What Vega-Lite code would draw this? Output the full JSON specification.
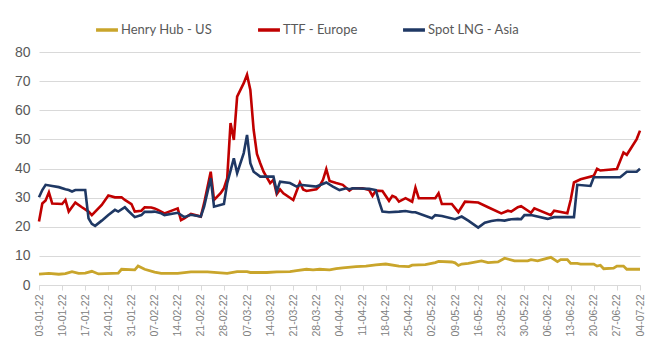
{
  "$schema": "https://vega.github.io/schema/vega-lite/v6.json",
  "width": 601,
  "height": 233,
  "autosize": {"type": "none"},
  "padding": {"left": 39, "top": 52, "right": 5, "bottom": 74},
  "background": "white",
  "config": {"view": {"stroke": null}, "font": "Liberation Sans"},
  "datasets": {
    "hh": [
      ["2022-01-03",3.7],["2022-01-06",4.0],["2022-01-09",3.7],["2022-01-11",3.9],["2022-01-13",4.6],["2022-01-15",4.0],["2022-01-17",4.1],["2022-01-19",4.7],["2022-01-21",3.8],["2022-01-27",4.1],["2022-01-28",5.4],["2022-02-01",5.2],["2022-02-02",6.5],["2022-02-04",5.4],["2022-02-07",4.4],["2022-02-09",4.0],["2022-02-14",4.0],["2022-02-18",4.5],["2022-02-23",4.5],["2022-03-01",4.0],["2022-03-04",4.6],["2022-03-07",4.6],["2022-03-08",4.3],["2022-03-13",4.3],["2022-03-16",4.5],["2022-03-20",4.6],["2022-03-22",4.9],["2022-03-25",5.4],["2022-03-27",5.2],["2022-03-29",5.4],["2022-04-01",5.2],["2022-04-03",5.6],["2022-04-05",5.9],["2022-04-09",6.3],["2022-04-12",6.5],["2022-04-15",6.9],["2022-04-18",7.2],["2022-04-22",6.5],["2022-04-25",6.3],["2022-04-26",6.8],["2022-04-30",7.0],["2022-05-03",7.7],["2022-05-04",8.1],["2022-05-08",7.9],["2022-05-09",7.6],["2022-05-10",6.7],["2022-05-11",7.2],["2022-05-13",7.4],["2022-05-17",8.3],["2022-05-19",7.7],["2022-05-22",7.9],["2022-05-24",9.2],["2022-05-27",8.3],["2022-05-31",8.3],["2022-06-01",8.7],["2022-06-03",8.3],["2022-06-07",9.5],["2022-06-09",8.0],["2022-06-10",8.7],["2022-06-12",8.7],["2022-06-13",7.4],["2022-06-15",7.4],["2022-06-16",7.2],["2022-06-20",7.2],["2022-06-21",6.5],["2022-06-22",6.8],["2022-06-23",5.6],["2022-06-26",5.8],["2022-06-27",6.5],["2022-06-29",6.5],["2022-06-30",5.4],["2022-07-04",5.4]
    ],
    "ttf": [
      ["2022-01-03",21.8],["2022-01-04",28],["2022-01-05",29],["2022-01-06",31.8],["2022-01-07",28],["2022-01-10",27.8],["2022-01-11",29.2],["2022-01-12",25.2],["2022-01-14",28.3],["2022-01-16",26.7],["2022-01-18",25.2],["2022-01-19",24],["2022-01-22",27.5],["2022-01-24",30.7],["2022-01-26",30.1],["2022-01-28",30.1],["2022-01-29",29.2],["2022-01-31",27.8],["2022-02-01",25.2],["2022-02-03",25.5],["2022-02-04",26.7],["2022-02-06",26.6],["2022-02-07",26.3],["2022-02-08",25.8],["2022-02-10",24.6],["2022-02-14",26.3],["2022-02-15",22.3],["2022-02-16",22.9],["2022-02-18",24.4],["2022-02-21",23.5],["2022-02-22",28.1],["2022-02-24",38.9],["2022-02-25",29.2],["2022-02-27",31.5],["2022-02-28",33.2],["2022-03-01",36.7],["2022-03-02",55.6],["2022-03-03",49.8],["2022-03-04",64.7],["2022-03-05",67],["2022-03-06",69.3],["2022-03-07",72.2],["2022-03-08",67],["2022-03-09",53.3],["2022-03-10",45],["2022-03-11",41.8],["2022-03-12",38.9],["2022-03-14",35],["2022-03-15",36.1],["2022-03-16",31.2],["2022-03-17",32.8],["2022-03-18",31.5],["2022-03-21",29.2],["2022-03-23",35.2],["2022-03-24",32.8],["2022-03-25",32.3],["2022-03-28",32.9],["2022-03-29",34],["2022-03-30",36.1],["2022-03-31",39.8],["2022-04-01",35.7],["2022-04-03",35],["2022-04-05",34.4],["2022-04-07",32.4],["2022-04-08",33.2],["2022-04-11",33.2],["2022-04-13",32.6],["2022-04-14",30.6],["2022-04-15",32.4],["2022-04-17",32.3],["2022-04-19",28.9],["2022-04-20",30.6],["2022-04-21",30.1],["2022-04-22",28.6],["2022-04-24",29.8],["2022-04-26",28.6],["2022-04-27",33.4],["2022-04-28",29.8],["2022-05-03",29.8],["2022-05-04",31.5],["2022-05-05",27.8],["2022-05-08",27.8],["2022-05-10",25],["2022-05-12",28.6],["2022-05-16",28.3],["2022-05-19",26.7],["2022-05-23",24.6],["2022-05-25",25.5],["2022-05-26",25.2],["2022-05-28",26.7],["2022-05-29",27.1],["2022-06-01",24.8],["2022-06-02",26.3],["2022-06-07",24],["2022-06-08",25.5],["2022-06-12",24.6],["2022-06-13",29.2],["2022-06-14",35.2],["2022-06-16",36.3],["2022-06-20",37.5],["2022-06-21",39.9],["2022-06-22",39.3],["2022-06-27",39.8],["2022-06-29",45.5],["2022-06-30",44.7],["2022-07-03",50.1],["2022-07-04",53]
    ],
    "lng": [
      ["2022-01-03",30.1],["2022-01-04",32.6],["2022-01-05",34.4],["2022-01-07",34],["2022-01-09",33.6],["2022-01-11",32.9],["2022-01-12",32.6],["2022-01-13",32.1],["2022-01-14",32.6],["2022-01-17",32.6],["2022-01-18",22.9],["2022-01-19",21],["2022-01-20",20.3],["2022-01-22",22.1],["2022-01-24",24],["2022-01-26",25.8],["2022-01-27",25.2],["2022-01-29",26.7],["2022-01-30",25.5],["2022-02-01",23.3],["2022-02-03",24],["2022-02-04",25.1],["2022-02-06",25.1],["2022-02-07",25.2],["2022-02-09",24.6],["2022-02-10",24],["2022-02-14",24.8],["2022-02-16",23.3],["2022-02-18",24.1],["2022-02-21",23.5],["2022-02-22",26.9],["2022-02-24",36.7],["2022-02-25",26.9],["2022-02-28",27.8],["2022-03-01",35],["2022-03-03",43.5],["2022-03-04",38.4],["2022-03-06",45.3],["2022-03-07",51.5],["2022-03-08",41.8],["2022-03-09",38.9],["2022-03-11",37.2],["2022-03-13",37.2],["2022-03-14",37.2],["2022-03-15",37.2],["2022-03-16",32.1],["2022-03-17",35.5],["2022-03-20",35],["2022-03-22",33.8],["2022-03-23",34.4],["2022-03-28",33.8],["2022-03-31",35.2],["2022-04-02",33.8],["2022-04-04",32.6],["2022-04-06",33.2],["2022-04-07",32.9],["2022-04-08",33.2],["2022-04-13",33],["2022-04-15",32.6],["2022-04-16",28.6],["2022-04-17",25.2],["2022-04-19",25],["2022-04-22",25.2],["2022-04-24",25.4],["2022-04-26",25],["2022-04-27",25],["2022-05-02",22.9],["2022-05-03",24],["2022-05-05",23.7],["2022-05-09",22.6],["2022-05-11",23.5],["2022-05-13",22.1],["2022-05-16",19.7],["2022-05-18",21.4],["2022-05-20",22],["2022-05-22",22.3],["2022-05-24",22.1],["2022-05-26",22.6],["2022-05-28",22.7],["2022-05-29",22.6],["2022-05-30",24],["2022-06-01",24],["2022-06-06",22.7],["2022-06-08",23.3],["2022-06-14",23.3],["2022-06-15",34.4],["2022-06-19",34],["2022-06-20",37],["2022-06-28",37],["2022-06-30",38.9],["2022-07-03",38.9],["2022-07-04",39.9]
    ]
  },
  "layer": [
    {
      "data": {"name": "hh"},
      "mark": {"type": "line", "strokeWidth": 2.8},
      "encoding": {
        "x": {"field": "0", "type": "temporal"},
        "y": {"field": "1", "type": "quantitative"},
        "color": {"datum": "Henry Hub - US"}
      }
    },
    {
      "data": {"name": "ttf"},
      "mark": {"type": "line", "strokeWidth": 2.6},
      "encoding": {
        "x": {"field": "0", "type": "temporal"},
        "y": {"field": "1", "type": "quantitative"},
        "color": {"datum": "TTF - Europe"}
      }
    },
    {
      "data": {"name": "lng"},
      "mark": {"type": "line", "strokeWidth": 2.6},
      "encoding": {
        "x": {"field": "0", "type": "temporal"},
        "y": {"field": "1", "type": "quantitative"},
        "color": {"datum": "Spot LNG - Asia"}
      }
    }
  ],
  "encoding": {
    "x": {
      "field": "0", "type": "temporal",
      "scale": {"type": "utc", "domain": [{"year": 2022, "month": 1, "date": 3, "utc": true}, {"year": 2022, "month": 7, "date": 4, "utc": true}], "nice": false},
      "axis": {
        "title": null, "grid": false,
        "values": [
          {"year":2022,"month":1,"date":3,"utc":true},{"year":2022,"month":1,"date":10,"utc":true},{"year":2022,"month":1,"date":17,"utc":true},{"year":2022,"month":1,"date":24,"utc":true},{"year":2022,"month":1,"date":31,"utc":true},
          {"year":2022,"month":2,"date":7,"utc":true},{"year":2022,"month":2,"date":14,"utc":true},{"year":2022,"month":2,"date":21,"utc":true},{"year":2022,"month":2,"date":28,"utc":true},
          {"year":2022,"month":3,"date":7,"utc":true},{"year":2022,"month":3,"date":14,"utc":true},{"year":2022,"month":3,"date":21,"utc":true},{"year":2022,"month":3,"date":28,"utc":true},
          {"year":2022,"month":4,"date":4,"utc":true},{"year":2022,"month":4,"date":11,"utc":true},{"year":2022,"month":4,"date":18,"utc":true},{"year":2022,"month":4,"date":25,"utc":true},
          {"year":2022,"month":5,"date":2,"utc":true},{"year":2022,"month":5,"date":9,"utc":true},{"year":2022,"month":5,"date":16,"utc":true},{"year":2022,"month":5,"date":23,"utc":true},{"year":2022,"month":5,"date":30,"utc":true},
          {"year":2022,"month":6,"date":6,"utc":true},{"year":2022,"month":6,"date":13,"utc":true},{"year":2022,"month":6,"date":20,"utc":true},{"year":2022,"month":6,"date":27,"utc":true},
          {"year":2022,"month":7,"date":4,"utc":true}
        ],
        "format": "%d-%m-%y",
        "labelAngle": -90,
        "labelFlush": false,
        "labelOverlap": false,
        "labelFont": "Liberation Sans",
        "labelFontSize": 10.5,
        "labelColor": "#808080",
        "labelPadding": 4,
        "domainColor": "#d9d9d9",
        "tickColor": "#d9d9d9",
        "tickSize": 5
      }
    },
    "y": {
      "field": "1", "type": "quantitative",
      "scale": {"domain": [0, 80], "nice": false},
      "axis": {
        "title": null,
        "values": [0, 10, 20, 30, 40, 50, 60, 70, 80],
        "domain": false, "ticks": false,
        "gridColor": "#d9d9d9",
        "labelFont": "Liberation Sans",
        "labelFontSize": 14,
        "labelColor": "#595959",
        "labelPadding": 9
      }
    },
    "color": {
      "type": "nominal",
      "scale": {"domain": ["Henry Hub - US", "TTF - Europe", "Spot LNG - Asia"], "range": ["#C9A52B", "#C00000", "#1F3864"]},
      "legend": {
        "title": null,
        "orient": "none",
        "legendX": 55,
        "legendY": -35,
        "direction": "horizontal",
        "gridAlign": "none",
        "symbolType": "stroke",
        "symbolStrokeWidth": 3.5,
        "symbolSize": 480,
        "labelFont": "Lato",
        "labelFontSize": 13,
        "labelColor": "#595959",
        "labelOffset": 1,
        "columnPadding": 38
      }
    }
  }
}
